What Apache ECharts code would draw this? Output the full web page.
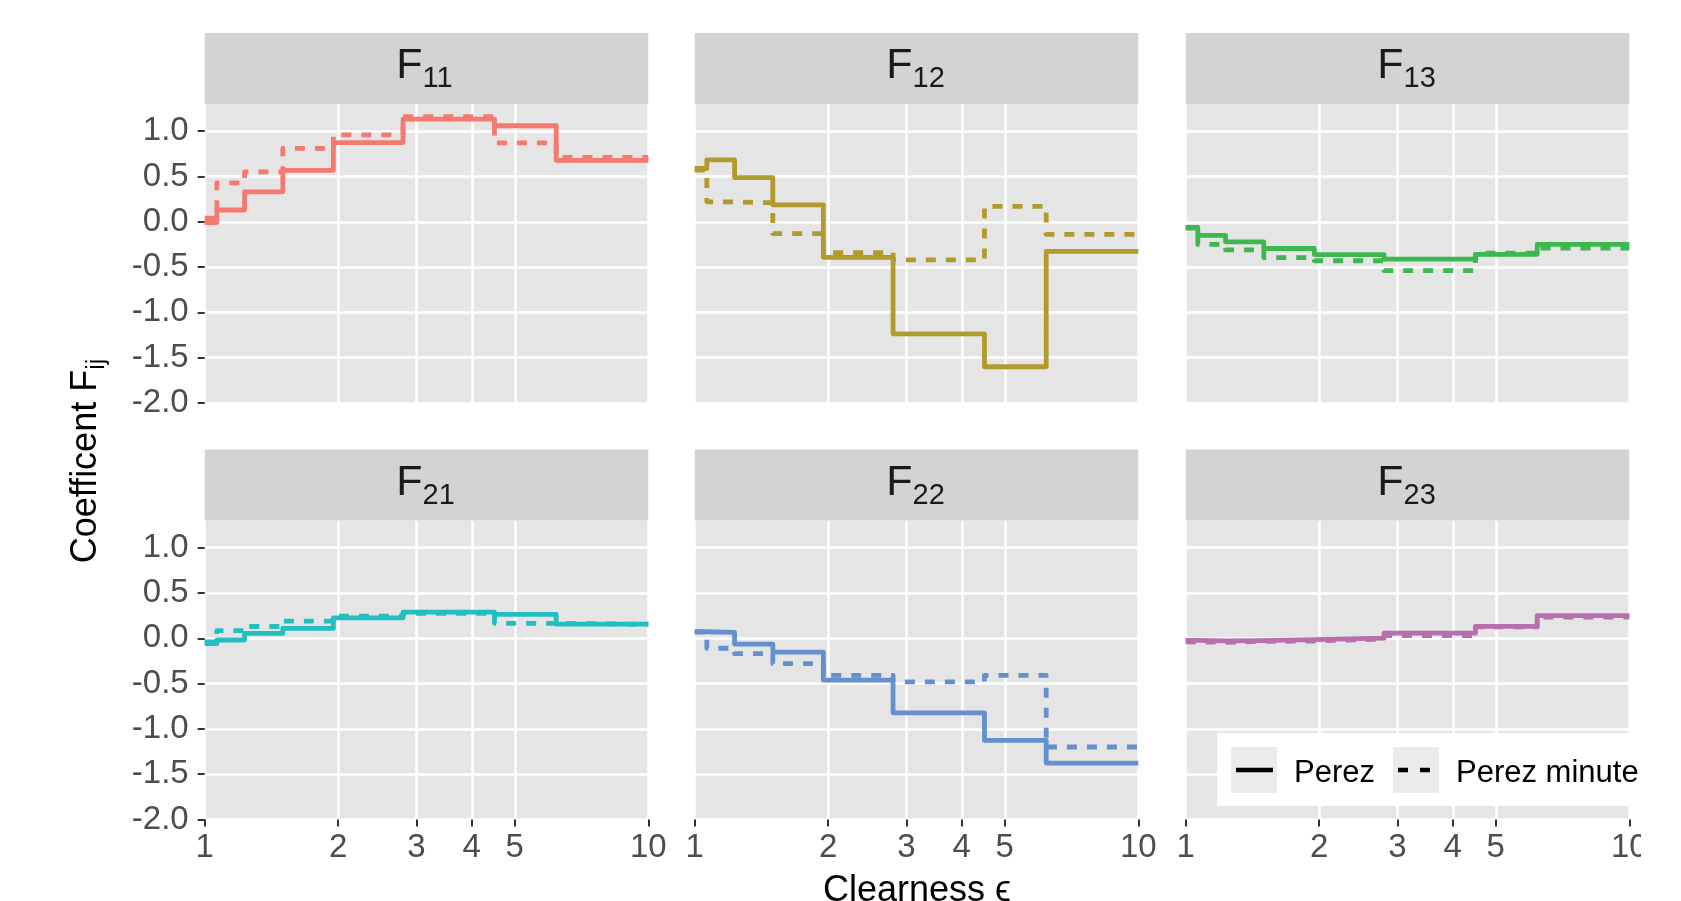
<!DOCTYPE html>
<html><head><meta charset="utf-8">
<script src="https://cdn.jsdelivr.net/npm/echarts@6/dist/echarts.min.js"></script>
<style>html,body{margin:0;padding:0;background:#fff;overflow:hidden}#c{width:1641px;height:901px}</style>
</head><body><div id="c"></div>
<script>
// ---- data ----
const FACETS = ['11', '12', '13', '21', '22', '23'];
const BIN_EDGES = [1, 1.065, 1.23, 1.5, 1.95, 2.8, 4.5, 6.2, 10];
const PEREZ_F11 = [-0.008, 0.130, 0.330, 0.568, 0.873, 1.132, 1.060, 0.678];
const PEREZ_F12 = [0.588, 0.683, 0.487, 0.187, -0.392, -1.237, -1.600, -0.327];
const PEREZ_F13 = [-0.062, -0.151, -0.221, -0.295, -0.362, -0.412, -0.359, -0.250];
const PEREZ_F21 = [-0.060, -0.019, 0.055, 0.109, 0.226, 0.288, 0.264, 0.156];
const PEREZ_F22 = [0.072, 0.066, -0.064, -0.152, -0.462, -0.823, -1.127, -1.377];
const PEREZ_F23 = [-0.022, -0.029, -0.026, -0.014, 0.001, 0.056, 0.131, 0.251];
const MINUTE_F11 = [0.04, 0.43, 0.55, 0.81, 0.96, 1.16, 0.87, 0.71];
const MINUTE_F12 = [0.57, 0.22, 0.21, -0.13, -0.34, -0.42, 0.17, -0.14];
const MINUTE_F13 = [-0.07, -0.25, -0.31, -0.395, -0.43, -0.54, -0.345, -0.29];
const MINUTE_F21 = [-0.04, 0.085, 0.13, 0.19, 0.245, 0.275, 0.165, 0.155];
const MINUTE_F22 = [0.07, -0.11, -0.17, -0.28, -0.41, -0.48, -0.41, -1.20];
const MINUTE_F23 = [-0.04, -0.045, -0.035, -0.03, -0.01, 0.03, 0.125, 0.235];
const X_TICKS = [1, 2, 3, 4, 5, 10];
const Y_TICKS = [-2, -1.5, -1, -0.5, 0, 0.5, 1];
const Y_MIN = -2, Y_MAX = 1.3;
const LEGEND_NAMES = ['Perez', 'Perez minute'];

const PEREZ = [PEREZ_F11, PEREZ_F12, PEREZ_F13, PEREZ_F21, PEREZ_F22, PEREZ_F23];
const MINUTE = [MINUTE_F11, MINUTE_F12, MINUTE_F13, MINUTE_F21, MINUTE_F22, MINUTE_F23];

// ---- styles / layout ----
const COLORS = ['#F47A70', '#B09B2C', '#3DB74E', '#22BFC0', '#6590CE', '#B86FAE'];
const FONT = 'Liberation Sans, Arial, Helvetica, sans-serif';
const COL_LEFT = [204.7, 694.7, 1185.7];
const PANEL_W = 443.6;
const ROW_TOP = [104, 520.5];
const PANEL_H = 299;
const STRIP_H = 71;
const LINE_W = 4.8;
const DASH = [10, 10];

function stepData(vals) {
  const d = vals.map((v, i) => [Math.log10(BIN_EDGES[i]), v]);
  d.push([Math.log10(BIN_EDGES[BIN_EDGES.length - 1]), vals[vals.length - 1]]);
  return d;
}
const xTickVals = X_TICKS.map(v => Math.log10(v));

const grids = [], xAxes = [], yAxes = [], series = [], graphics = [];
FACETS.forEach((f, i) => {
  const r = Math.floor(i / 3), c = i % 3;
  const left = COL_LEFT[c], top = ROW_TOP[r];
  grids.push({
    left: left, top: top, width: PANEL_W, height: PANEL_H,
    show: true, backgroundColor: '#E5E5E5', borderWidth: 0,
    containLabel: false, outerBoundsMode: 'none'
  });
  const bottomRow = r === 1, leftCol = c === 0;
  xAxes.push({
    type: 'value', gridIndex: i, min: 0, max: 1, position: 'bottom',
    axisLine: { show: false, onZero: false },
    axisTick: { show: bottomRow, customValues: xTickVals, length: 7, lineStyle: { color: '#333333', width: 2 } },
    axisLabel: {
      show: bottomRow, customValues: xTickVals, margin: 12,
      formatter: v => String(Math.round(Math.pow(10, v))),
      fontSize: 33, color: '#4D4D4D', fontFamily: FONT
    },
    splitLine: { show: true, lineStyle: { color: '#FFFFFF', width: 2.5 } },
    minorSplitLine: { show: false }
  });
  yAxes.push({
    type: 'value', gridIndex: i, min: Y_MIN, max: Y_MAX, position: 'left',
    axisLine: { show: false, onZero: false },
    axisTick: { show: leftCol, customValues: Y_TICKS, length: 7, lineStyle: { color: '#333333', width: 2 } },
    axisLabel: {
      show: leftCol, customValues: Y_TICKS, margin: 16,
      formatter: v => Number(v).toFixed(1),
      fontSize: 33, color: '#4D4D4D', fontFamily: FONT
    },
    splitLine: { show: true, lineStyle: { color: '#FFFFFF', width: 2.5 } }
  });
  series.push({
    type: 'line', name: LEGEND_NAMES[0], xAxisIndex: i, yAxisIndex: i,
    data: stepData(PEREZ[i]), step: 'end', symbol: 'none', showSymbol: false,
    lineStyle: { color: COLORS[i], width: LINE_W, type: 'solid', cap: 'butt', join: 'round' },
    itemStyle: { color: COLORS[i] }, silent: true, z: 2
  });
  series.push({
    type: 'line', name: LEGEND_NAMES[1], xAxisIndex: i, yAxisIndex: i,
    data: stepData(MINUTE[i]), step: 'end', symbol: 'none', showSymbol: false,
    lineStyle: { color: COLORS[i], width: LINE_W, type: DASH, cap: 'butt', join: 'round' },
    itemStyle: { color: COLORS[i] }, silent: true, z: 3
  });
  // facet strip
  const stripTop = top - STRIP_H;
  const cx = left + PANEL_W / 2;
  graphics.push({
    type: 'rect', z: 1,
    shape: { x: left, y: stripTop, width: PANEL_W, height: STRIP_H },
    style: { fill: '#D2D3D3' }
  });
  graphics.push({
    type: 'text', z: 6, x: cx - 4, y: stripTop + 33.5,
    style: { text: 'F', align: 'right', verticalAlign: 'middle', fontSize: 43, fontFamily: FONT, fill: '#1A1A1A' }
  });
  graphics.push({
    type: 'text', z: 6, x: cx - 4, y: stripTop + 46,
    style: { text: f, align: 'left', verticalAlign: 'middle', fontSize: 29, fontFamily: FONT, fill: '#1A1A1A' }
  });
});

// y axis title (rotated) with subscript
(function () {
  const ctx = document.createElement('canvas').getContext('2d');
  ctx.font = '36px ' + FONT;
  const wa = ctx.measureText('Coefficent F').width;
  ctx.font = '25px ' + FONT;
  const wb = ctx.measureText('ij').width;
  const W = wa + wb;
  const xc = 86.5, yc = 461;
  graphics.push({
    type: 'text', z: 6, x: xc, y: yc + W / 2, rotation: Math.PI / 2,
    style: { text: 'Coefficent F', align: 'left', verticalAlign: 'middle', fontSize: 36, fontFamily: FONT, fill: '#000000' }
  });
  graphics.push({
    type: 'text', z: 6, x: xc + 10.5, y: yc + W / 2 - wa, rotation: Math.PI / 2,
    style: { text: 'ij', align: 'left', verticalAlign: 'middle', fontSize: 25, fontFamily: FONT, fill: '#000000' }
  });
})();
graphics.push({
  type: 'text', z: 6, x: 917, y: 891,
  style: { text: 'Clearness \u03F5', align: 'center', verticalAlign: 'middle', fontSize: 36, fontFamily: FONT, fill: '#000000' }
});
// legend box, key backgrounds and key glyphs
graphics.push({ type: 'rect', z: 5, shape: { x: 1217, y: 733, width: 470, height: 73 }, style: { fill: '#FFFFFF' } });
graphics.push({ type: 'rect', z: 5, shape: { x: 1231, y: 747, width: 46, height: 46 }, style: { fill: '#EBEBEB' } });
graphics.push({ type: 'rect', z: 5, shape: { x: 1393, y: 747, width: 46, height: 46 }, style: { fill: '#EBEBEB' } });
graphics.push({ type: 'line', z: 6, shape: { x1: 1236, y1: 770, x2: 1273, y2: 770 }, style: { stroke: '#000000', lineWidth: 4.5, lineCap: 'butt' } });
graphics.push({ type: 'line', z: 6, shape: { x1: 1398, y1: 770, x2: 1435, y2: 770 }, style: { stroke: '#000000', lineWidth: 4.5, lineCap: 'butt', lineDash: [10, 12] } });

const option = {
  animation: false,
  backgroundColor: '#FFFFFF',
  textStyle: { fontFamily: FONT },
  grid: grids, xAxis: xAxes, yAxis: yAxes, series: series,
  legend: {
    left: 1217, top: 733, width: 700, orient: 'horizontal', z: 10,
    padding: [17, 10, 10, 19], itemGap: 23, itemWidth: 37, itemHeight: 46,
    selectedMode: false, icon: 'rect',
    itemStyle: { color: 'rgba(0,0,0,0)', borderWidth: 0 },
    textStyle: { fontSize: 31, color: '#000000', fontFamily: FONT, padding: [0, 0, 0, 16] },
    data: LEGEND_NAMES.map(n => ({ name: n, icon: 'rect', itemStyle: { color: 'rgba(0,0,0,0)', borderWidth: 0 } }))
  },
  graphic: { elements: graphics }
};
const chart = echarts.init(document.getElementById('c'), null, { renderer: 'canvas' });
chart.setOption(option);
</script></body></html>
